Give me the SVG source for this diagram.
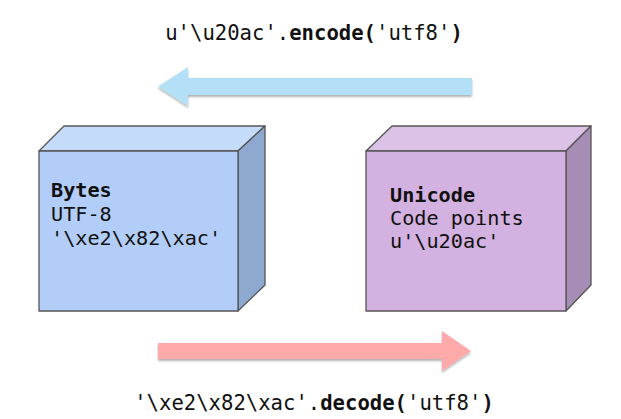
<svg xmlns="http://www.w3.org/2000/svg" width="621" height="419" viewBox="0 0 621 419">
<style>
.mono{font-family:"DejaVu Sans Mono","Liberation Mono",monospace;fill:#111}
.cap{font-size:20.6px;text-anchor:middle}
.lbl{font-size:20.2px}
.b{font-weight:bold}
.edge{stroke:#555;stroke-width:1.3;stroke-linejoin:round}
</style>
<defs>
<filter id="sh" x="-10%" y="-20%" width="120%" height="160%">
<feGaussianBlur in="SourceAlpha" stdDeviation="1"/>
<feOffset dx="0" dy="2" result="o"/>
<feComponentTransfer><feFuncA type="linear" slope="0.3"/></feComponentTransfer>
<feMerge><feMergeNode/><feMergeNode in="SourceGraphic"/></feMerge>
</filter>
</defs>
<rect width="621" height="419" fill="#fff"/>
<g id="connectors">
<g id="encode-arrow">
<polygon filter="url(#sh)" fill="#b4e0f7" points="472,78 188,78 188,67 158,86.5 188,106 188,95 472,95"/>
<text class="mono cap" x="314" y="40">u'\u20ac'.<tspan class="b">encode(</tspan>'utf8'<tspan class="b">)</tspan></text>
</g>
<g id="decode-arrow">
<polygon filter="url(#sh)" fill="#ffaaaa" points="158,343 442,343 442,331 471,351 442,371 442,359 158,359"/>
<text class="mono cap" x="314" y="410">'\xe2\x82\xac'.<tspan class="b">decode(</tspan>'utf8'<tspan class="b">)</tspan></text>
</g>
</g>
<g id="bytes">
<polygon class="edge" fill="#c4dbf9" points="39,151 64,126 265,126 238,151"/>
<polygon class="edge" fill="#8ea9cf" points="238,151 265,126 265,285 238,311"/>
<rect class="edge" fill="#b1cdf8" x="39" y="151" width="199" height="160"/>
<text class="mono lbl b" x="51" y="197">Bytes</text>
<text class="mono lbl" x="51" y="221">UTF-8</text>
<text class="mono lbl" x="51" y="245">'\xe2\x82\xac'</text>
</g>
<g id="unicode">
<polygon class="edge" fill="#dcc2e6" points="366,151 392,126 591,126 566,151"/>
<polygon class="edge" fill="#a68db5" points="566,151 591,126 591,285 566,311"/>
<rect class="edge" fill="#d3b1e0" x="366" y="151" width="200" height="160"/>
<text class="mono lbl b" x="390" y="202">Unicode</text>
<text class="mono lbl" x="390" y="225">Code points</text>
<text class="mono lbl" x="390" y="248">u'\u20ac'</text>
</g>
</svg>
